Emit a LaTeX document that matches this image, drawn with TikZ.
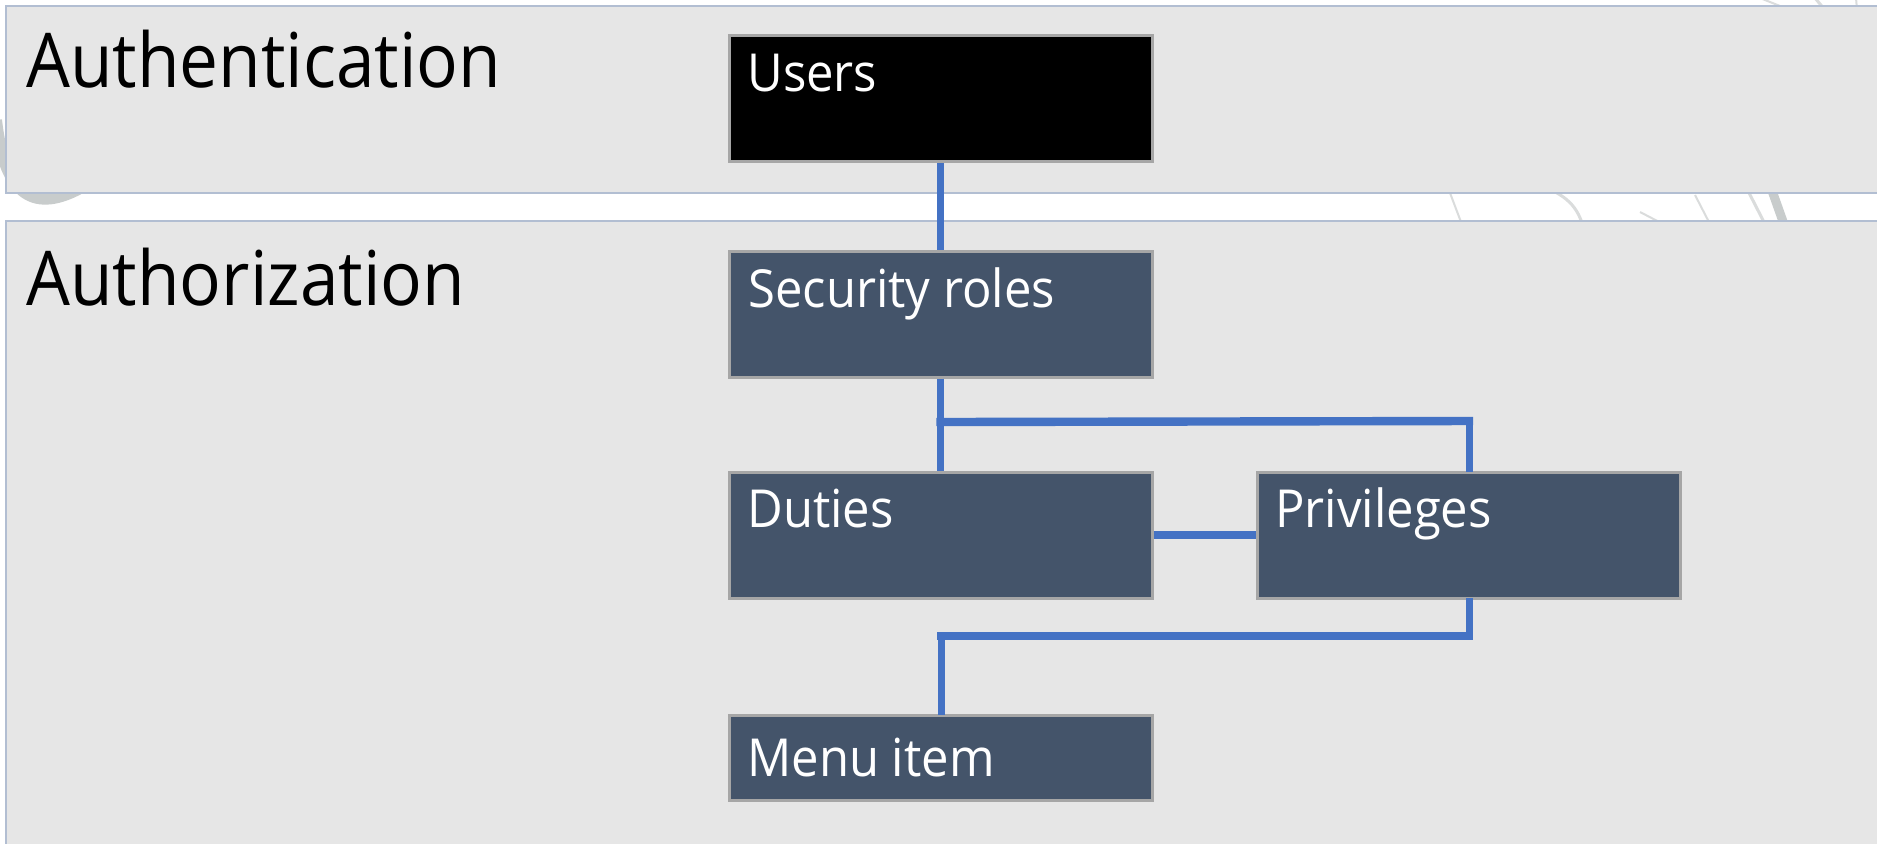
\documentclass[tikz,border=0pt]{standalone}
\usepackage{fontspec}
\setmainfont{Open Sans}
\newfontfamily\headfont{Open Sans}[FakeStretch=0.917]
\newfontfamily\boxfont{Open Sans}[FakeStretch=0.935]
\usetikzlibrary{calc}
\definecolor{bandfill}{RGB}{230,230,230}
\definecolor{bandline}{RGB}{178,190,210}
\definecolor{boxfill}{RGB}{68,84,106}
\definecolor{boxline}{RGB}{166,166,166}
\definecolor{link}{RGB}{68,114,196}
\definecolor{wmark}{RGB}{200,204,204}
\definecolor{wmarklight}{RGB}{218,220,220}
\tikzset{
  band/.style={fill=bandfill, draw=bandline, line width=1.2pt},
  entity/.style={rectangle, fill=boxfill, draw=boxline, line width=1.5pt,
    minimum width=211.5pt, minimum height=63pt, inner sep=0pt},
  toplabel/.style={anchor=base west, inner sep=0pt, font=\headfont\fontsize{37.8pt}{40pt}\selectfont, text=black},
  boxlabel/.style={anchor=base west, inner sep=0pt, font=\boxfont\fontsize{26.2pt}{28pt}\selectfont, text=white},
  vlink/.style={draw=link, line width=3.5pt, line cap=rect},
  hlink/.style={draw=link, line width=4.2pt, line cap=rect},
  wm/.style={draw=wmark, line width=6pt},
  wmthin/.style={draw=wmarklight, line width=1pt},
}
\begin{document}
\begin{tikzpicture}[x=0.5pt, y=-0.5pt]
\useasboundingbox (0,0) rectangle (1877,843);
\fill[white] (0,0) rectangle (1877,843);
% faint watermark behind the bands
\draw[wm] (-4,120) .. controls (4,190) and (30,215) .. (80,188);
\draw[wmthin] (-10,330) arc[start angle=200, end angle=150, radius=60];
\draw[wmthin] (-10,410) arc[start angle=210, end angle=150, radius=50];
\draw[wmthin] (-10,470) arc[start angle=210, end angle=150, radius=50];
\draw[wmthin] (-10,520) arc[start angle=200, end angle=160, radius=40];
\draw[wmthin] (1447,185) -- (1464,230);
\draw[wmthin, line width=1.5pt] (1540,185) .. controls (1565,195) and (1578,205) .. (1584,230);
\draw[wmthin] (1640,212) -- (1665,225);
\draw[wmthin] (1695,195) -- (1712,228);
\draw[wmthin, line width=1.5pt] (1745,185) -- (1768,230);
\draw[wm, line width=4.5pt] (1770,185) -- (1786,230);
\draw[wmthin] (1760,-2) -- (1790,10);
\draw[wmthin, line width=1.5pt] (1815,-2) -- (1825,10);
\draw[wmthin] (1856,-2) -- (1857,10);
% bands
\draw[band] (6,6) rectangle (1900,193);
\draw[band] (6,221) rectangle (1900,870);
\node[toplabel] (authn) at (26,87) {Authentication};
\node[toplabel] (authz) at (26,305) {Authorization};
% boxes
\node[entity, fill=black] (users) at (940.5,98.5) {};
\node[entity] (roles) at (940.5,314) {};
\node[entity] (duties) at (940.5,535) {};
\node[entity] (privs) at (1469,535) {};
\node[entity, minimum height=42.5pt] (menu) at (940.5,757.5) {};
\node[boxlabel] (usersT) at (747,91) {Users};
\node[boxlabel] (rolesT) at (748,307) {Security roles};
\node[boxlabel] (dutiesT) at (747,527) {Duties};
\node[boxlabel] (privsT) at (1275,527) {Privileges};
\node[boxlabel] (menuT) at (747,776) {Menu item};
% connectors
\coordinate (j1) at (940.5,422);
\coordinate (j2) at (1469,421);
\coordinate (j3) at (1469,636);
\coordinate (j4) at (941.5,636);
\draw[vlink, line cap=butt] (users.south) -- (roles.north);
\draw[vlink, line cap=butt] (roles.south) -- (duties.north);
\draw[hlink] (j1) -- (j2);
\draw[vlink] (j2) -- ([yshift=0.9pt]privs.north);
\draw[hlink, line cap=butt] (duties.east) -- (privs.west);
\draw[vlink] ([yshift=-0.9pt]privs.south) -- (j3);
\draw[hlink] (j3) -- (j4);
\draw[vlink] (j4) -- ([yshift=0.9pt]j4 |- menu.north);
\end{tikzpicture}
\end{document}
